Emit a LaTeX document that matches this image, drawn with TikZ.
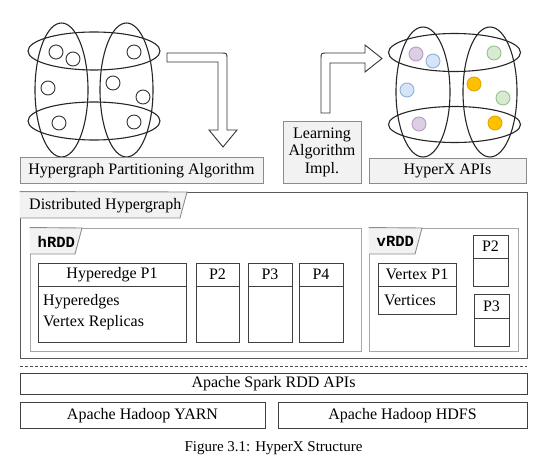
\documentclass[tikz,border=0pt]{standalone}
\usepackage{fontspec}
\setmainfont{Liberation Serif}
\setmonofont{Liberation Mono}
\definecolor{tabgray}{HTML}{F2F2F2}
\definecolor{pfill}{HTML}{DCCFE3}
\definecolor{pdraw}{HTML}{B49CC4}
\definecolor{bfill}{HTML}{D6E4F7}
\definecolor{bdraw}{HTML}{8FB0DC}
\definecolor{gfill}{HTML}{D8EAD2}
\definecolor{gdraw}{HTML}{98C08C}
\definecolor{yfill}{HTML}{FFC000}
\definecolor{ydraw}{HTML}{E0A800}

\begin{document}

\begin{tikzpicture}[x=1pt,y=-1pt,
  txt/.style={font=\fontsize{16}{18}\selectfont, inner sep=0pt},
  graybox/.style={txt, draw=black!45, fill=tabgray, line width=0.9pt},
  framebox/.style={draw=black!65, line width=0.9pt, inner sep=0pt},
  rddbox/.style={draw=black!35, line width=0.9pt, inner sep=0pt},
  partbox/.style={draw=black!75, line width=0.9pt, inner sep=0pt},
  plainbox/.style={txt, draw=black!75, line width=0.9pt},
  tabshape/.style={draw=black!45, fill=tabgray, line width=0.9pt},
  hedge/.style={draw=black!85, line width=1.1pt},
  vert/.style={circle, draw=black!80, fill=white, line width=0.9pt, minimum size=14pt, inner sep=0pt},
  cvert/.style={circle, line width=0.9pt, minimum size=14pt, inner sep=0pt},
  blockarrow/.style={draw=black!80, fill=white, line width=0.9pt, line join=miter}
]
\useasboundingbox (0,0) rectangle (534,462);

% ---------- left hypergraph ----------
\draw[hedge] (61.5,90) ellipse [x radius=26.5, y radius=67];
\draw[hedge] (126.5,90) ellipse [x radius=26.5, y radius=67];
\draw[hedge] (94,51) ellipse [x radius=66, y radius=19];
\draw[hedge] (94,121) ellipse [x radius=66, y radius=19];
\node[vert] (a1) at (56,52) {};
\node[vert] (a2) at (73,59) {};
\node[vert] (a3) at (134,52) {};
\node[vert] (a4) at (48,88) {};
\node[vert] (a5) at (113,83) {};
\node[vert] (a6) at (143,97) {};
\node[vert] (a7) at (59,123) {};
\node[vert] (a8) at (134,122) {};

% ---------- right hypergraph ----------
\draw[hedge] (423,92) ellipse [x radius=27, y radius=65];
\draw[hedge] (490,92) ellipse [x radius=27, y radius=65];
\draw[hedge] (454.5,52.5) ellipse [x radius=66, y radius=19];
\draw[hedge] (454.5,124.5) ellipse [x radius=66, y radius=18];
\node[cvert, draw=pdraw, fill=pfill] (b1) at (416,54) {};
\node[cvert, draw=bdraw, fill=bfill] (b2) at (433,61) {};
\node[cvert, draw=bdraw, fill=bfill] (b3) at (407,90) {};
\node[cvert, draw=pdraw, fill=pfill] (b4) at (419,124) {};
\node[cvert, draw=gdraw, fill=gfill] (b5) at (494,53) {};
\node[cvert, draw=ydraw, fill=yfill] (b6) at (474,84) {};
\node[cvert, draw=gdraw, fill=gfill] (b7) at (503,98) {};
\node[cvert, draw=ydraw, fill=yfill] (b8) at (495,123) {};

% ---------- block arrows ----------
\draw[blockarrow] (167,53) -- (221,53) .. controls (227,53) .. (227,59) -- (227,130)
  -- (237,130) -- (223,147) -- (209,130) -- (218,130) -- (218,62) -- (167,62) -- cycle;
\draw[blockarrow] (321,113) -- (321,59) .. controls (321,53) .. (327,53) -- (365,53)
  -- (365,45) -- (382,58.5) -- (365,72) -- (365,63) -- (330,63) -- (330,113) -- cycle;

% ---------- top boxes ----------
\node[graybox, minimum width=243pt, minimum height=26pt] (hpa) at (141.5,170.5) {Hypergraph Partitioning Algorithm};
\node[graybox, minimum width=78pt, minimum height=62pt, align=center] (learn) at (322,152)
  {Learning\\[-0.5pt]Algorithm\\[-0.5pt]Impl.};
\node[graybox, minimum width=157pt, minimum height=25pt] (hxapi) at (447.5,170.5) {HyperX APIs};

% ---------- distributed hypergraph ----------
\node[framebox, minimum width=507pt, minimum height=166pt] (dist) at (273.5,275) {};
\draw[tabshape] (dist.north west) -- (187,192) -- (180,218) -- (20,218);
\node[txt, anchor=west] (distlbl) at (29,206) {Distributed Hypergraph};

% hRDD
\node[rddbox, minimum width=331pt, minimum height=123pt] (hrdd) at (195.5,289.5) {};
\draw[tabshape] (hrdd.north west) -- (82,228) -- (75,254) -- (30,254);
\node[txt, anchor=west, font=\fontsize{15.5}{18}\selectfont\ttfamily\bfseries] (hlbl) at (37.5,241.5) {hRDD};

\node[partbox, minimum width=148pt, minimum height=79pt] (hp1) at (112,302.5) {};
\draw[partbox] (38,286) -- (186,286);
\node[txt] (hp1t) at (112,274.5) {Hyperedge P1};
\node[txt, anchor=west] (hp1a) at (43,301.5) {Hyperedges};
\node[txt, anchor=west] (hp1b) at (43,323) {Vertex Replicas};

\node[partbox, minimum width=43pt, minimum height=79pt] (hp2) at (217.5,302.5) {};
\draw[partbox] (196,286) -- (239,286);
\node[txt] (hp2t) at (217.5,274.5) {P2};
\node[partbox, minimum width=44pt, minimum height=79pt] (hp3) at (270,302.5) {};
\draw[partbox] (248,286) -- (292,286);
\node[txt] (hp3t) at (270,274.5) {P3};
\node[partbox, minimum width=44pt, minimum height=79pt] (hp4) at (321,302.5) {};
\draw[partbox] (299,286) -- (343,286);
\node[txt] (hp4t) at (321,274.5) {P4};

% vRDD
\node[rddbox, minimum width=149pt, minimum height=123pt] (vrdd) at (443.5,289.5) {};
\draw[tabshape] (vrdd.north west) -- (422,228) -- (415,254) -- (369,254);
\node[txt, anchor=west, font=\fontsize{15.5}{18}\selectfont\ttfamily\bfseries] (vlbl) at (376.5,241.5) {vRDD};

\node[partbox, minimum width=78pt, minimum height=51pt] (vp1) at (417,288.5) {};
\draw[partbox] (378,286) -- (456,286);
\node[txt] (vp1t) at (417,274.5) {Vertex P1};
\node[txt, anchor=west] (vp1a) at (384,300.5) {Vertices};

\node[partbox, minimum width=35pt, minimum height=51pt] (vp2) at (490.5,260.5) {};
\draw[partbox] (473,258) -- (508,258);
\node[txt] (vp2t) at (490.5,246.5) {P2};
\node[partbox, minimum width=35pt, minimum height=52pt] (vp3) at (491.5,320) {};
\draw[partbox] (474,318) -- (509,318);
\node[txt] (vp3t) at (491.5,306.5) {P3};

% ---------- bottom layers ----------
\coordinate (dl) at (20,366);
\coordinate (dr) at (527,366);
\draw[black!70, line width=0.8pt, dash pattern=on 3pt off 2pt] (dl) -- (dr);
\node[plainbox, minimum width=507pt, minimum height=21pt] (spark) at (273.5,383.5) {Apache Spark RDD APIs};
\node[plainbox, minimum width=245pt, minimum height=26pt] (yarn) at (142.5,415.5) {Apache Hadoop YARN};
\node[plainbox, minimum width=249pt, minimum height=26pt] (hdfs) at (402.5,415.5) {Apache Hadoop HDFS};
\node[txt, font=\fontsize{15}{18}\selectfont] (cap) at (273.5,448) {Figure 3.1: HyperX Structure};
\end{tikzpicture}

\end{document}
